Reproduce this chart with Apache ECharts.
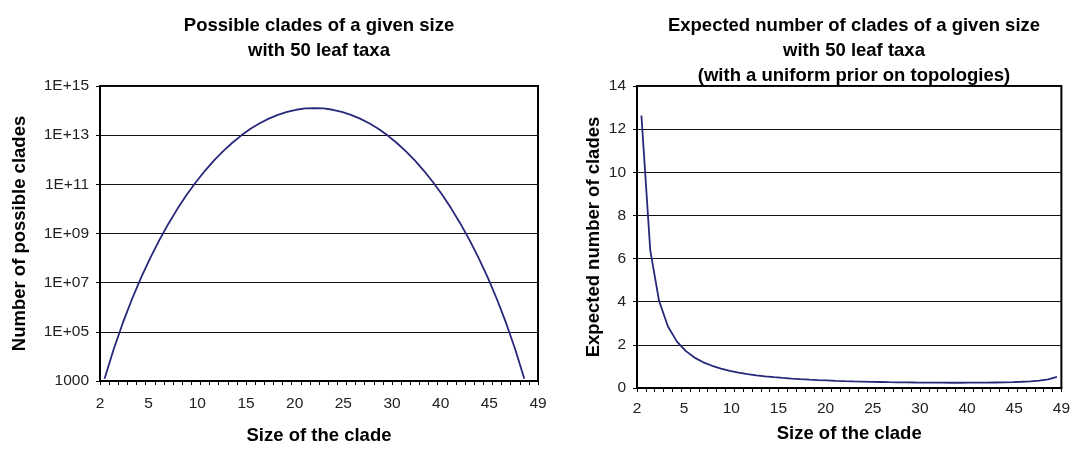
<!DOCTYPE html>
<html>
<head>
<meta charset="utf-8">
<script src="https://cdn.jsdelivr.net/npm/echarts@6/dist/echarts.min.js"></script>
<style>
html,body{margin:0;padding:0;background:#fff;}
#chart{width:1073px;height:450px;}
</style>
</head>
<body>
<div id="chart"></div>
<script>
// Clade sizes (category axis)
const cladeSizes = [2,3,4,5,6,7,8,9,10,11,12,13,14,15,16,17,18,19,20,21,22,23,24,25,26,27,28,29,30,31,32,33,34,35,36,37,38,39,40,41,42,43,44,45,46,47,48,49];
// Left chart: number of possible clades of each size (log scale)
const possibleClades = [1.23e3,1.96e4,2.30e5,2.12e6,1.59e7,9.99e7,5.37e8,2.51e9,1.03e10,3.74e10,1.21e11,3.55e11,9.38e11,2.25e12,4.92e12,9.85e12,1.81e13,3.04e13,4.71e13,6.73e13,8.87e13,1.08e14,1.22e14,1.26e14,1.22e14,1.08e14,8.87e13,6.73e13,4.71e13,3.04e13,1.81e13,9.85e12,4.92e12,2.25e12,9.38e11,3.55e11,1.21e11,3.74e10,1.03e10,2.51e9,5.37e8,9.99e7,1.59e7,2.12e6,2.30e5,1.96e4,1.23e3,null];
// Right chart: expected number of clades of each size
const expectedClades = [12.63,6.38,4.03,2.85,2.16,1.72,1.41,1.19,1.03,0.898,0.796,0.713,0.645,0.589,0.542,0.501,0.466,0.436,0.410,0.387,0.367,0.350,0.334,0.320,0.308,0.297,0.287,0.279,0.271,0.265,0.259,0.254,0.251,0.248,0.245,0.244,0.244,0.245,0.247,0.250,0.256,0.263,0.274,0.289,0.310,0.343,0.399,0.516];
// Tick labels as printed on the original x axes
const xTickLabels = ['2','5','10','15','20','25','30','40','45','49'];
// Left y axis tick labels (exponents 3,5,...,15)
const yLogTickLabels = ['1000','1E+05','1E+07','1E+09','1E+11','1E+13','1E+15'];

const FONT = 'Liberation Sans, Arial, sans-serif';
const LINE = '#28287a';
const tickFont = {fontFamily: FONT, fontSize: 15.5, color: '#222'};
const nameFont = {fontFamily: FONT, fontSize: 18.5, fontWeight: 'bold', color: '#000'};

function mainX(gridIndex, nameGap) {
  return {
    type: 'category', gridIndex, data: cladeSizes, boundaryGap: true, position: 'bottom',
    name: 'Size of the clade', nameLocation: 'middle', nameGap, nameTextStyle: nameFont,
    axisLine: {show: true, lineStyle: {color: '#000', width: 2}},
    axisTick: {show: true, interval: 0, length: 4, lineStyle: {color: '#000', width: 1}},
    axisLabel: {show: false}, splitLine: {show: false}
  };
}
function labelX(gridIndex, margin) {
  return {
    type: 'category', gridIndex, data: xTickLabels, boundaryGap: false, position: 'bottom',
    axisLine: {show: false}, axisTick: {show: false}, splitLine: {show: false},
    axisLabel: Object.assign({interval: 0, margin, hideOverlap: false}, tickFont)
  };
}

const chart = echarts.init(document.getElementById('chart'), null, {renderer: 'canvas'});
chart.setOption({
  animation: false,
  backgroundColor: '#fff',
  graphic: [
    {type: 'text', x: 319, y: 13.5, style: {text: 'Possible clades of a given size\nwith 50 leaf taxa', textAlign: 'center', textVerticalAlign: 'top', fontFamily: FONT, fontSize: 18.5, fontWeight: 'bold', lineHeight: 25, fill: '#000'}},
    {type: 'text', x: 854, y: 13.5, style: {text: 'Expected number of clades of a given size\nwith 50 leaf taxa\n(with a uniform prior on topologies)', textAlign: 'center', textVerticalAlign: 'top', fontFamily: FONT, fontSize: 18.5, fontWeight: 'bold', lineHeight: 25, fill: '#000'}}
  ],
  grid: [
    {left: 100, right: 535, top: 86, bottom: 62, show: true, borderColor: '#000', borderWidth: 2, backgroundColor: '#fff'},
    {left: 637, right: 2, top: 86, bottom: 62, show: true, borderColor: '#000', borderWidth: 2, backgroundColor: '#fff'}
  ],
  xAxis: [mainX(0, 45), labelX(0, 15), mainX(1, 36), labelX(1, 13)],
  yAxis: [
    {
      type: 'log', gridIndex: 0, logBase: 10, min: 1000, max: 1e15, interval: 2, splitNumber: 6,
      name: 'Number of possible clades', nameLocation: 'middle', nameGap: 71, nameTextStyle: nameFont,
      axisLine: {show: true, lineStyle: {color: '#000', width: 2}},
      axisTick: {show: true, length: 4, lineStyle: {color: '#000'}},
      splitLine: {show: true, lineStyle: {color: '#111', width: 1}},
      axisLabel: Object.assign({margin: 11, formatter: function (v) {
        const e = Math.round(Math.log10(v));
        const i = (e - 3) / 2;
        return (Number.isInteger(i) && yLogTickLabels[i]) ? yLogTickLabels[i] : '';
      }}, tickFont)
    },
    {
      type: 'value', gridIndex: 1, min: 0, max: 14, interval: 2,
      name: 'Expected number of clades', nameLocation: 'middle', nameGap: 34, nameTextStyle: nameFont,
      axisLine: {show: true, lineStyle: {color: '#000', width: 2}},
      axisTick: {show: true, length: 4, lineStyle: {color: '#000'}},
      splitLine: {show: true, lineStyle: {color: '#111', width: 1}},
      axisLabel: Object.assign({margin: 11}, tickFont)
    }
  ],
  series: [
    {type: 'line', xAxisIndex: 0, yAxisIndex: 0, data: possibleClades, symbol: 'none', clip: true,
     lineStyle: {color: LINE, width: 1.8}},
    {type: 'line', xAxisIndex: 2, yAxisIndex: 1, data: expectedClades, symbol: 'none', clip: true,
     lineStyle: {color: LINE, width: 1.8}}
  ]
});
</script>
</body>
</html>
